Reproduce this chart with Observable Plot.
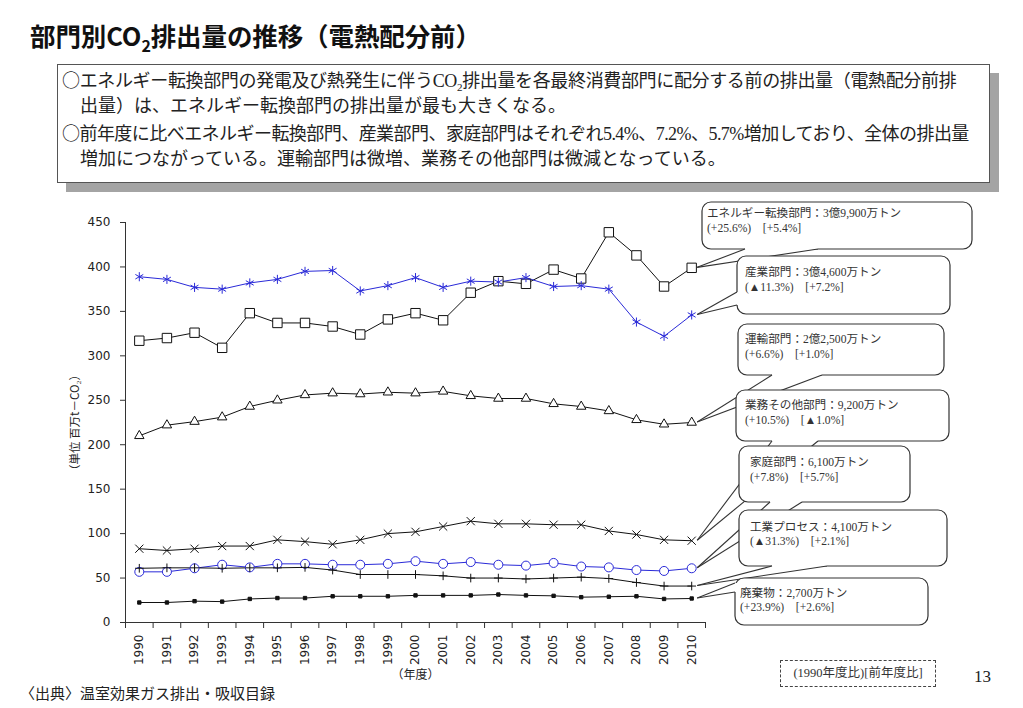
<!DOCTYPE html>
<html><head><meta charset="utf-8">
<script src="https://cdn.jsdelivr.net/npm/d3@7"></script>
<script src="https://cdn.jsdelivr.net/npm/@observablehq/plot@0.6"></script>
<style>
html,body{margin:0;padding:0;background:#fff;}
body{width:1023px;height:708px;position:relative;overflow:hidden;}
.abs{position:absolute;white-space:nowrap;}
.serif{font-family:"Liberation Serif","Noto Sans CJK JP",serif;color:#222;}
.goth{font-family:"Noto Sans CJK JP",sans-serif;}
.cj{font-family:"Noto Sans CJK JP",sans-serif;}
</style></head>
<body>
<script>
// ---- data ----
const years = [1990,1991,1992,1993,1994,1995,1996,1997,1998,1999,2000,2001,2002,2003,2004,2005,2006,2007,2008,2009,2010];
const energy     = [317,320,326,309,348,337,337,333,324,341,348,340,371,384,381,397,387,439,413,378,399];
const industry   = [389,386,377,375,382,386,395,396,373,379,388,377,384,383,388,378,379,375,338,322,346];
const transport  = [210,222,226,231,243,250,256,258,257,259,258,260,255,252,252,246,243,238,228,223,225];
const commercial = [83,81,83,86,86,93,91,88,93,100,102,108,114,111,111,110,110,103,99,93,92];
const residential= [57,57,61,65,62,66,66,65,65,66,69,66,68,65,64,67,63,62,59,58,61];
const process    = [61,61.5,61.5,61,61.5,61.5,62,59,54,54,54,52.5,50,50,49,50,51,49.5,45,41,41];
const waste      = [22.5,22.5,24,23.5,26.5,27.5,27.5,29.5,29.5,29.5,30.5,30.5,30.5,31.5,30.5,30,28.5,29,29.5,26.5,27];
const yTicks = [0,50,100,150,200,250,300,350,400,450];
const calloutLine1 = ["エネルギー転換部門：3億9,900万トン","産業部門：3億4,600万トン","運輸部門：2億2,500万トン","業務その他部門：9,200万トン","家庭部門：6,100万トン","工業プロセス：4,100万トン","廃棄物：2,700万トン"];
const calloutLine2 = ["(+25.6%)　[+5.4%]","(▲11.3%)　[+7.2%]","(+6.6%)　[+1.0%]","(+10.5%)　[▲1.0%]","(+7.8%)　[+5.7%]","(▲31.3%)　[+2.1%]","(+23.9%)　[+2.6%]"];
const calloutKeys = ["energy","industry","transport","commercial","residential","process","waste"];

const BLUE = "#2a2ad8";
const seriesDefs = [
  {key:"energy", vals:energy, color:"#111", symbol:"square", r:5.3, fill:"white"},
  {key:"transport", vals:transport, color:"#111", symbol:"triangle", r:3.5, fill:"white"},
  {key:"residential", vals:residential, color:BLUE, symbol:"circle", r:4.5, fill:"white"},
  {key:"industry", vals:industry, color:BLUE, symbol:"asterisk", r:4.3, fill:"none"},
  {key:"commercial", vals:commercial, color:"#111", symbol:"times", r:3.8, fill:"none"},
  {key:"process", vals:process, color:"#111", symbol:"plus", r:2.9, fill:"none"},
  {key:"waste", vals:waste, color:"#111", symbol:"square", r:1.9, fill:"#111"}
];
const rows = [];
for (const s of seriesDefs) years.forEach((yr,i)=>rows.push({series:s.key, year:yr, value:s.vals[i]}));

// ---- static page parts ----
function addDiv(html, cls, style){const d=document.createElement("div");d.className="abs "+cls;d.setAttribute("style",style);d.innerHTML=html;document.body.appendChild(d);return d;}
addDiv("部門別CO<span style='font-size:16px;position:relative;top:6px'>2</span>排出量の推移（電熱配分前）","goth","left:30px;top:21px;font-size:25.5px;line-height:28px;font-weight:700;color:#111;letter-spacing:-0.1px;");
addDiv("","","left:66px;top:73px;width:933px;height:119px;background:#a4a4a4;");
addDiv("","","left:57px;top:64px;width:931px;height:117px;background:#fff;border:1.5px solid #555;");
const bodyLines = [
 "<span class='cj'>○</span>エネルギー転換部門の発電及び熱発生に伴うCO<span style='font-size:11px;position:relative;top:4px'>2</span>排出量を各最終消費部門に配分する前の排出量（電熱配分前排",
 "　出量）は、エネルギー転換部門の排出量が最も大きくなる。",
 "<span class='cj'>○</span>前年度に比べエネルギー転換部門、産業部門、家庭部門はそれぞれ5.4%、7.2%、5.7%増加しており、全体の排出量",
 "　増加につながっている。運輸部門は微増、業務その他部門は微減となっている。"];
const spacing = ["-0.35px","0px","-0.55px","0px"];
bodyLines.forEach((t,i)=>addDiv(t,"serif",`left:62px;top:${66+i*26.5}px;font-size:18px;line-height:26px;letter-spacing:${spacing[i]};`));

// ---- chart ----
const chartDiv = addDiv("","","left:0px;top:200px;");
const plot = Plot.plot({
  width: 1023, height: 490,
  marginLeft: 125, marginRight: 318, marginTop: 22, marginBottom: 68,
  style: {fontFamily: "DejaVu Sans, sans-serif", fontSize: "12px", color: "#222", background: "transparent", overflow: "visible"},
  x: {type: "linear", domain: [1989.5, 2010.5]},
  y: {domain: [0, 450]},
  marks: [
    Plot.ruleY([0], {stroke: "#333"}),
    Plot.ruleX([1989.5], {stroke: "#333"}),
    Plot.axisY({ticks: yTicks, tickSize: 5, tickPadding: 10, tickFormat: d => String(d), label: null, stroke: "#333"}),
    Plot.axisX({ticks: years.map(y => y - 0.5).concat([2010.5]), tickSize: 6, tickFormat: () => "", label: null, stroke: "#333"}),
    Plot.axisX({ticks: years, tickSize: 0, tickPadding: 12, tickRotate: -90, tickFormat: d => String(d), label: null}),
    ...seriesDefs.map(s => Plot.line(rows.filter(r => r.series === s.key), {x: "year", y: "value", stroke: s.color, strokeWidth: 1})),
    ...seriesDefs.map(s => Plot.dot(rows.filter(r => r.series === s.key), {x: "year", y: "value", symbol: s.symbol, r: s.r, fill: s.fill, stroke: s.color, strokeWidth: 1})),
    Plot.text(["（年度）"], {frameAnchor: "bottom", dy: 56, fontFamily: "Noto Sans CJK JP", fontSize: 12}),
    Plot.text(["（単位 百万t－CO₂）"], {frameAnchor: "left", dx: -50, rotate: -90, textAnchor: "middle", fontFamily: "Noto Sans CJK JP", fontSize: 11.5})
  ]
});
chartDiv.appendChild(plot);

// ---- callouts (tips located through the plot's own scales) ----
const xs0 = plot.scale("x"), ys0 = plot.scale("y");
const xsc = d3.scaleLinear(xs0.domain, xs0.range);
const ysc = d3.scaleLinear(ys0.domain, ys0.range);
const OFF = 200;
const layout = [
  {box:[702,202,972,249], tx:707, ty:[217,232], base:[[745,249],[818,249]]},
  {box:[737,256,950,314], tx:745, ty:[276,291], base:[[737,292],[737,305]]},
  {box:[738,324,944,375], tx:745, ty:[343,358], base:[[772,375],[822,375]]},
  {box:[736,390,949,441], tx:745, ty:[409,424], base:[[772,441],[818,441]]},
  {box:[739,446,910,502], tx:750, ty:[466,481], base:[[770,502],[802,502]]},
  {box:[739,510,947,566], tx:750, ty:[531,545], base:[[772,566],[827,566]]},
  {box:[735,578,928,625], tx:740, ty:[597,611], base:[[735,583],[735,592]]}
];
const svg = d3.select(plot);
const g = svg.append("g").attr("text-anchor", "start");
layout.forEach((L, i) => {
  const s = seriesDefs.find(d => d.key === calloutKeys[i]);
  const tip = [xsc(2010) + 6, ysc(s.vals[years.length - 1])];
  const [x0,y0,x1,y1] = L.box;
  const b = L.base.map(([x,y]) => [x, y - OFF]);
  const inset = b.map(([x,y]) => (Math.abs(y - (y1-OFF)) < 0.5) ? [x, y - 3] : [x + 3, y]);
  g.append("rect").attr("x", x0).attr("y", y0 - OFF).attr("width", x1 - x0).attr("height", y1 - y0)
    .attr("rx", 9).attr("fill", "white").attr("stroke", "#333").attr("stroke-width", 1.2);
  g.append("path").attr("d", "M" + [tip, b[0], inset[0], inset[1], b[1]].map(p => p.join(",")).join("L") + "Z")
    .attr("fill", "white").attr("stroke", "none");
  b.forEach(p => g.append("path").attr("d", `M${tip[0]},${tip[1]}L${p[0]},${p[1]}`)
    .attr("fill", "none").attr("stroke", "#333").attr("stroke-width", 1.1));
  [calloutLine1[i], calloutLine2[i]].forEach((t, k) => g.append("text").attr("x", L.tx).attr("y", L.ty[k] - OFF)
    .attr("text-anchor", "start")
    .attr("font-family", "Liberation Serif, Noto Sans CJK JP, serif").attr("font-size", 11.6).attr("fill", "#333").text(t));
});

// ---- footer ----
addDiv("〈出典〉温室効果ガス排出・吸収目録","serif","left:20px;top:684px;font-size:15px;line-height:20px;");
addDiv("(1990年度比)[前年度比]","serif","left:780px;top:660px;width:154px;height:25px;border:1px dashed #444;font-size:12.5px;line-height:25px;text-align:center;color:#333;");
addDiv("13","serif","left:974px;top:666px;font-size:17px;line-height:22px;");
</script>
</body></html>
